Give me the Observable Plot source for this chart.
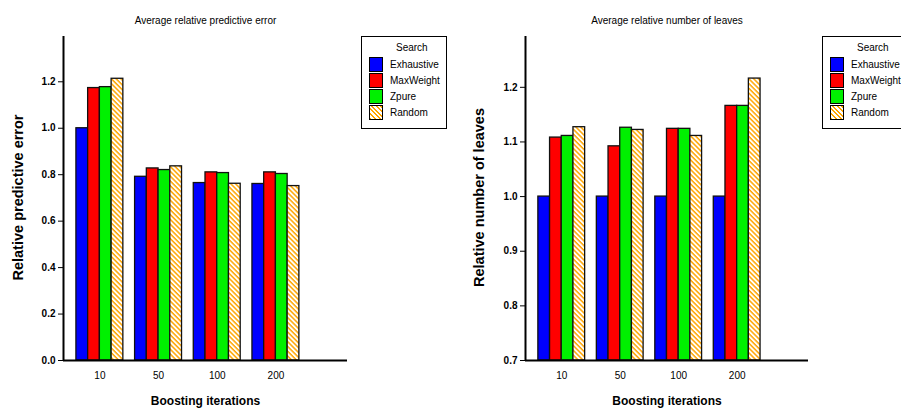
<!DOCTYPE html>
<html>
<head>
<meta charset="utf-8">
<script src="https://cdn.jsdelivr.net/npm/d3@7"></script>
<script src="https://cdn.jsdelivr.net/npm/@observablehq/plot@0.6"></script>
<style>
  html, body { margin: 0; padding: 0; background: #fff; overflow: hidden; width: 901px; height: 410px; }
  #wrap { position: relative; width: 901px; height: 410px; font-family: "Liberation Sans", Arial, sans-serif; }
  #left { position: absolute; left: 0; top: 0; }
  #right { position: absolute; left: 450px; top: 0; }
  .legend { position: absolute; border: 1px solid #000; background: #fff; font-size: 10px; color: #000; box-sizing: border-box; }
  .legend .ttl { position: absolute; top: 5px; width: 100%; text-align: center; }
  .legend .row { position: absolute; height: 16px; line-height: 16px; white-space: nowrap; }
  .legend .sw { position: absolute; left: 0; top: 0; width: 14px; height: 15px; border: 1px solid #000; box-sizing: border-box; }
  .legend .lbl { position: absolute; left: 21px; top: 0; }
</style>
</head>
<body>
<div id="wrap">
  <div id="left"></div>
  <div id="right"></div>
</div>
<script>
// ---- data ----
const iterations = ["10", "50", "100", "200"];
const searches = ["Exhaustive", "MaxWeight", "Zpure", "Random"];
const searchColors = ["#0000FF", "#FF0000", "#00F000", "url(#hatchOrange)"];
const legendSwatches = ["#0000FF", "#FF0000", "#00F000", "hatch"];

const errExhaustive = [1.000, 0.791, 0.764, 0.760];
const errMaxWeight  = [1.173, 0.827, 0.810, 0.810];
const errZpure      = [1.177, 0.820, 0.807, 0.803];
const errRandom     = [1.213, 0.836, 0.761, 0.751];

const leavesExhaustive = [1.000, 1.000, 1.000, 1.000];
const leavesMaxWeight  = [1.108, 1.092, 1.124, 1.166];
const leavesZpure      = [1.111, 1.126, 1.124, 1.166];
const leavesRandom     = [1.127, 1.122, 1.111, 1.216];

const errTicks = [0, 0.2, 0.4, 0.6, 0.8, 1.0, 1.2];
const leavesTicks = [0.7, 0.8, 0.9, 1.0, 1.1, 1.2];

// ---- helpers ----
function buildRows(seriesArrays) {
  const rows = [];
  iterations.forEach((it, gi) => {
    searches.forEach((s, si) => {
      rows.push({iter: it, gi, search: s, si, value: seriesArrays[si][gi]});
    });
  });
  return rows;
}
const SLOT = searches.length + 1; // 4 bars + 1 gap per group
const tickPos = iterations.map((_, gi) => gi * SLOT + searches.length / 2);

function makeChart({rows, yDomain, yTicks, base, title, ylabel, width, marginLeft, marginRight, ylabelX}) {
  const font = "Liberation Sans, Arial, sans-serif";
  const chart = Plot.plot({
    width, height: 410,
    marginLeft, marginRight, marginTop: 36, marginBottom: 50,
    style: {fontFamily: font, background: "white", color: "#000"},
    x: {type: "linear", domain: [-1.1, 23.1], axis: null},
    y: {domain: yDomain, axis: null},
    color: {type: "ordinal", domain: searches, range: searchColors},
    marks: [
      Plot.rectY(rows, {
        x1: d => d.gi * SLOT + d.si,
        x2: d => d.gi * SLOT + d.si + 1,
        y1: () => base,
        y2: "value",
        fill: "search",
        stroke: "#111",
        strokeWidth: 1.3
      }),
      Plot.axisY({ticks: yTicks, tickFormat: d3.format(".1f"), tickSize: 5, tickPadding: 3,
        fontSize: 10, fontWeight: "bold", label: null, stroke: "#000"}),
      Plot.axisX({ticks: tickPos, tickFormat: (d, i) => iterations[i], tickSize: 0, tickPadding: 11,
        fontSize: 10, label: null}),
      Plot.ruleX([-1.1], {stroke: "#000", strokeWidth: 2}),
      Plot.ruleY([base], {stroke: "#000", strokeWidth: 2}),
      Plot.text([title], {frameAnchor: "top", dy: -20, fontSize: 10, text: d => d}),
      Plot.text([ylabel], {frameAnchor: "left", textAnchor: "middle", rotate: -90, dx: -(marginLeft - ylabelX), dy: -1,
        fontSize: 14.5, fontWeight: "bold", text: d => d}),
      Plot.text(["Boosting iterations"], {frameAnchor: "bottom", dy: 44, fontSize: 12, fontWeight: "bold", text: d => d})
    ]
  });
  return chart;
}

function addHatch(svg, id) {
  const ns = "http://www.w3.org/2000/svg";
  const defs = document.createElementNS(ns, "defs");
  defs.innerHTML = `<pattern id="${id}" patternUnits="userSpaceOnUse" width="3.4" height="3.4" patternTransform="rotate(45)">
      <rect x="0" y="0" width="3.4" height="3.4" fill="#ffffff"></rect>
      <rect x="0" y="0" width="3.4" height="1.5" fill="#FFA500"></rect>
    </pattern>`;
  svg.insertBefore(defs, svg.firstChild);
}

function makeLegend(left, top, w) {
  const el = document.createElement("div");
  el.className = "legend";
  el.style.left = left + "px";
  el.style.top = top + "px";
  el.style.width = w + "px";
  el.style.height = "93px";
  const t = document.createElement("div");
  t.className = "ttl"; t.textContent = "Search";
  t.style.textAlign = "left"; t.style.left = "34px"; t.style.width = "auto";
  el.appendChild(t);
  searches.forEach((s, i) => {
    const r = document.createElement("div");
    r.className = "row";
    r.style.left = "7px";
    r.style.top = (20 + i * 16) + "px";
    const sw = document.createElement("div");
    sw.className = "sw";
    if (legendSwatches[i] === "hatch") {
      sw.style.background = "repeating-linear-gradient(45deg, #FFA500 0px, #FFA500 1.4px, #ffffff 1.4px, #ffffff 3.2px)";
    } else {
      sw.style.background = legendSwatches[i];
    }
    const lb = document.createElement("div");
    lb.className = "lbl"; lb.textContent = s;
    r.appendChild(sw); r.appendChild(lb);
    el.appendChild(r);
  });
  document.getElementById("wrap").appendChild(el);
}

const leftChart = makeChart({
  rows: buildRows([errExhaustive, errMaxWeight, errZpure, errRandom]),
  yDomain: [0, 1.395], yTicks: errTicks, base: 0,
  title: "Average relative predictive error",
  ylabel: "Relative predictive error",
  width: 450, marginLeft: 63, marginRight: 103, ylabelX: 17.5
});
addHatch(leftChart, "hatchOrange");
document.getElementById("left").appendChild(leftChart);

const rightChart = makeChart({
  rows: buildRows([leavesExhaustive, leavesMaxWeight, leavesZpure, leavesRandom]),
  yDomain: [0.7, 1.293], yTicks: leavesTicks, base: 0.7,
  title: "Average relative number of leaves",
  ylabel: "Relative number of leaves",
  width: 451, marginLeft: 75, marginRight: 93, ylabelX: 28.5
});
document.getElementById("right").appendChild(rightChart);

makeLegend(361, 36, 86);
makeLegend(822, 36, 86);
</script>
</body>
</html>
